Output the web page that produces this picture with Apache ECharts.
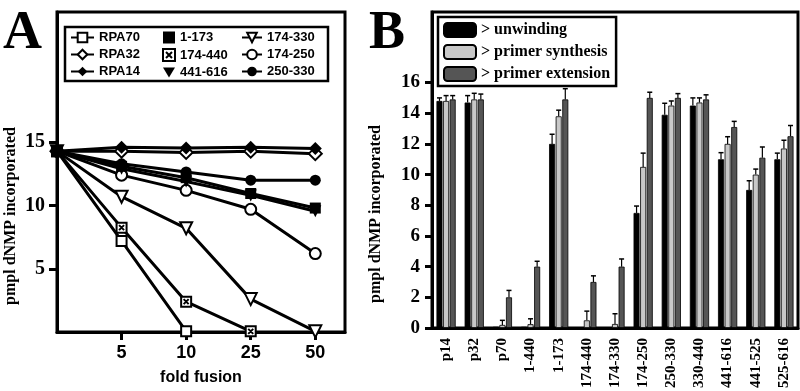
<!DOCTYPE html>
<html>
<head>
<meta charset="utf-8">
<script src="https://cdn.jsdelivr.net/npm/echarts@6/dist/echarts.min.js"></script>
<style>
  html, body { margin: 0; padding: 0; background: #fff; }
  #chart { width: 800px; height: 391px; }
</style>
</head>
<body>
<div id="chart"></div>
<script>
// Panel A: fold fusion (x positions 0..4, first point is the unfused start)
const foldLabels = ['5', '10', '25', '50'];
const rpa70 = [14.3, 7.2, 0.05];
const rpa32 = [14.3, 14.3, 14.2, 14.3, 14.1];
const rpa14 = [14.3, 14.6, 14.55, 14.6, 14.5];
const s1_173 = [14.3, 13.1, 12.2, 10.95, 9.8];
const s174_440 = [14.3, 8.25, 2.4, 0.05];
const s441_616 = [14.3, 12.9, 11.9, 10.8, 9.55];
const s174_330 = [14.3, 10.7, 8.2, 2.6, 0.05];
const s174_250 = [14.3, 12.4, 11.2, 9.7, 6.2];
const s250_330 = [14.3, 13.3, 12.65, 12.0, 12.0];

// Panel B: constructs and three activities (value, error)
const constructs = ['p14', 'p32', 'p70', '1-440', '1-173', '174-440', '174-330', '174-250', '250-330', '330-440', '441-616', '441-525', '525-616'];
const unwinding = [14.8, 14.7, 0.08, 0.08, 12.0, 0.05, 0.05, 7.5, 13.9, 14.5, 11.0, 9.0, 11.0];
const unwindingErr = [0.2, 0.45, 0, 0, 0.63, 0, 0, 0.45, 0.75, 0.5, 0.43, 0.6, 0.4];
const synthesis = [14.8, 14.9, 0.2, 0.25, 13.8, 0.5, 0.26, 10.5, 14.5, 14.7, 12.0, 10.0, 11.7];
const synthesisErr = [0.35, 0.4, 0.3, 0.35, 0.4, 0.6, 0.67, 0.9, 0.3, 0.3, 0.47, 0.36, 0.54];
const extension = [14.9, 14.9, 2.0, 4.0, 14.9, 3.0, 4.0, 15.0, 15.0, 14.9, 13.1, 11.1, 12.5];
const extensionErr = [0.25, 0.35, 0.45, 0.35, 0.7, 0.4, 0.5, 0.37, 0.28, 0.3, 0.37, 0.7, 0.7];

const sans = 'Liberation Sans';
const serif = 'Liberation Serif';
const triDown = 'path://M0,0L12,0L6,10Z';
const crossSq = 'path://M0,0L10,0L10,10L0,10Z M2.5,2.5L7.5,7.5 M7.5,2.5L2.5,7.5';

const barW = 6;
const barGapPct = 0.1;

const chart = echarts.init(document.getElementById('chart'));

function lineSeries(name, values, symbol, filled, size) {
    return {
        name: name,
        type: 'line',
        xAxisIndex: 0,
        yAxisIndex: 0,
        data: values.map((v, i) => [i, v]),
        symbol: symbol,
        symbolSize: size || 11,
        showAllSymbol: true,
        lineStyle: { color: '#000', width: 3 },
        itemStyle: {
            color: filled ? '#000' : '#fff',
            borderColor: '#000',
            borderWidth: filled ? 0 : 2
        },
        emphasis: { disabled: true },
        animation: false
    };
}

function barSeries(name, values, color) {
    return {
        name: name,
        type: 'bar',
        xAxisIndex: 1,
        yAxisIndex: 1,
        data: values,
        barWidth: barW,
        barGap: (barGapPct * 100) + '%',
        itemStyle: { color: color, borderColor: '#000', borderWidth: 0.8 },
        animation: false
    };
}

// error bars: vertical stem above the bar with a small cap
function errSeries(values, errs, slot) {
    return {
        type: 'custom',
        xAxisIndex: 1,
        yAxisIndex: 1,
        z: 5,
        silent: true,
        data: values.map((v, i) => [i, v, errs[i]]),
        renderItem: function (params, api) {
            const idx = api.value(0);
            const v = api.value(1);
            const e = api.value(2);
            if (!e) return null;
            const step = barW * (1 + barGapPct);
            const base = api.coord([idx, v]);
            const top = api.coord([idx, v + e]);
            const x = base[0] + (slot - 1) * step;
            return {
                type: 'group',
                children: [
                    { type: 'line', shape: { x1: x, y1: base[1], x2: x, y2: top[1] }, style: { stroke: '#000', lineWidth: 1.2 } },
                    { type: 'line', shape: { x1: x - 2.5, y1: top[1], x2: x + 2.5, y2: top[1] }, style: { stroke: '#000', lineWidth: 1.5 } }
                ]
            };
        },
        animation: false
    };
}

const legendText = { fontFamily: sans, fontWeight: 'bold', fontSize: 13, color: '#000' };
// y-axis names sit lower than the grid middle in the original
const yNameStyle = { fontFamily: serif, fontWeight: 'bold', fontSize: 16, color: '#000', padding: [0, 88, 0, 0] };

const option = {
    backgroundColor: '#fff',
    animation: false,
    title: [
        { text: 'A', left: -2, top: 2, textStyle: { fontFamily: serif, fontWeight: 'bold', fontSize: 54, color: '#000' } },
        { text: 'B', left: 364, top: 2, textStyle: { fontFamily: serif, fontWeight: 'bold', fontSize: 54, color: '#000' } }
    ],
    graphic: [
        { type: 'rect', shape: { x: 65, y: 27, width: 263, height: 54 }, style: { fill: null, stroke: '#000', lineWidth: 2.5 }, z: 10 }
    ],
    legend: [
        { orient: 'vertical', left: 70, top: 31, padding: 0, itemGap: 4, itemWidth: 23, itemHeight: 12, textStyle: legendText, selectedMode: false,
          data: ['RPA70', 'RPA32', 'RPA14'] },
        { orient: 'vertical', left: 162, top: 31, padding: 0, itemGap: 4, itemWidth: 12, itemHeight: 12, textStyle: legendText, selectedMode: false,
          data: [{ name: '1-173', icon: 'rect' }, { name: '174-440', icon: crossSq }, { name: '441-616', icon: triDown }] },
        { orient: 'vertical', left: 241, top: 31, padding: 0, itemGap: 4, itemWidth: 20, itemHeight: 12, textStyle: legendText, selectedMode: false,
          data: ['174-330', '174-250', '250-330'] },
        { orient: 'vertical', left: 438, top: 17, padding: [5, 6, 4, 5], itemGap: 6, itemWidth: 32, itemHeight: 14,
          borderColor: '#000', borderWidth: 2.5, selectedMode: false,
          textStyle: { fontFamily: serif, fontWeight: 'bold', fontSize: 16, color: '#000' },
          data: ['> unwinding', '> primer synthesis', '> primer extension'] }
    ],
    grid: [
        { left: 57, top: 12, width: 288, height: 321, show: true, borderColor: '#000', borderWidth: 3, backgroundColor: 'transparent' },
        { left: 432, top: 12, width: 366, height: 319, show: true, borderColor: '#000', borderWidth: 3, backgroundColor: 'transparent' }
    ],
    xAxis: [
        {
            gridIndex: 0, type: 'value', min: 0, max: 4.46,
            name: 'fold fusion', nameLocation: 'middle', nameGap: 38,
            nameTextStyle: { fontFamily: sans, fontWeight: 'bold', fontSize: 16, color: '#000' },
            axisLine: { lineStyle: { color: '#000', width: 3 } },
            axisTick: { customValues: [1, 2, 3, 4], length: 8, lineStyle: { color: '#000', width: 3 } },
            axisLabel: { customValues: [1, 2, 3, 4], margin: 12, fontFamily: sans, fontWeight: 'bold', fontSize: 18, color: '#000',
                formatter: v => foldLabels[Math.round(v) - 1] },
            splitLine: { show: false }
        },
        {
            gridIndex: 1, type: 'category', data: constructs,
            axisLine: { lineStyle: { color: '#000', width: 3 } },
            axisTick: { length: 7, lineStyle: { color: '#000', width: 3 } },
            axisLabel: { rotate: 90, interval: 0, margin: 10, fontFamily: serif, fontWeight: 'bold', fontSize: 15, color: '#000' }
        }
    ],
    yAxis: [
        {
            gridIndex: 0, type: 'value', min: 0, max: 25.3,
            name: 'pmpl dNMP incorporated', nameLocation: 'middle', nameGap: 38, nameRotate: 90,
            nameTextStyle: yNameStyle,
            axisLine: { show: true, lineStyle: { color: '#000', width: 3 } },
            axisTick: { show: true, customValues: [5, 10, 15], length: 8, lineStyle: { color: '#000', width: 3 } },
            axisLabel: { customValues: [5, 10, 15], margin: 12, fontFamily: serif, fontWeight: 'bold', fontSize: 20, color: '#000' },
            splitLine: { show: false }
        },
        {
            gridIndex: 1, type: 'value', min: 0, max: 20.6,
            name: 'pmpl dNMP incorporated', nameLocation: 'middle', nameGap: 48, nameRotate: 90,
            nameTextStyle: yNameStyle,
            axisLine: { show: true, lineStyle: { color: '#000', width: 3 } },
            axisTick: { show: true, customValues: [0, 2, 4, 6, 8, 10, 12, 14, 16], length: 7, lineStyle: { color: '#000', width: 3 } },
            axisLabel: { customValues: [0, 2, 4, 6, 8, 10, 12, 14, 16], margin: 12, fontFamily: serif, fontWeight: 'bold', fontSize: 19, color: '#000' },
            splitLine: { show: false }
        }
    ],
    series: [
        lineSeries('RPA70', rpa70, 'rect', false, 10),
        lineSeries('174-440', s174_440, crossSq, false, 10),
        lineSeries('174-330', s174_330, triDown, false, 12),
        lineSeries('174-250', s174_250, 'circle', false, 11),
        lineSeries('441-616', s441_616, triDown, true, 12),
        lineSeries('1-173', s1_173, 'rect', true, 11),
        lineSeries('250-330', s250_330, 'circle', true, 11),
        lineSeries('RPA32', rpa32, 'diamond', false, 13),
        lineSeries('RPA14', rpa14, 'diamond', true, 13),
        barSeries('> unwinding', unwinding, '#000'),
        barSeries('> primer synthesis', synthesis, '#c8c8c8'),
        barSeries('> primer extension', extension, '#555'),
        errSeries(unwinding, unwindingErr, 0),
        errSeries(synthesis, synthesisErr, 1),
        errSeries(extension, extensionErr, 2)
    ]
};

chart.setOption(option);
</script>
</body>
</html>
